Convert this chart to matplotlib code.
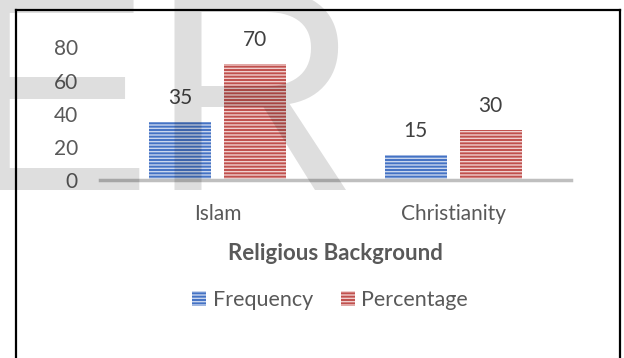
import numpy as np
import matplotlib
matplotlib.use("Agg")
import matplotlib.pyplot as plt
from matplotlib.lines import Line2D
from matplotlib.patches import Patch

religions = ["Islam", "Christianity"]
frequency = [35, 15]
percentage = [70, 30]
series_names = ["Frequency", "Percentage"]
yticks = [0, 20, 40, 60, 80]

blue, blue_light = "#4472C4", "#C9D6EE"
red, red_light = "#C0504D", "#F0CFCE"
txt = "#595959"

plt.rcParams["font.family"] = ["Lato", "DejaVu Sans"]
plt.rcParams["hatch.linewidth"] = 1.0

W, H = 624, 358
fig = plt.figure(figsize=(W / 100, H / 100), dpi=100)
fig.patch.set_facecolor("white")

# plot area in pixels: x 100..571, y 47..180 (from top)
ax = fig.add_axes([100 / W, 1 - 180 / H, 471 / W, 132.6 / H])

x = np.arange(len(religions))
bw = 0.263
off = 0.159
b1 = ax.bar(x - off, frequency, bw, color=blue, edgecolor=blue_light,
            hatch="-----", linewidth=0, label=series_names[0])
b2 = ax.bar(x + off, percentage, bw, color=red, edgecolor=red_light,
            hatch="-----", linewidth=0, label=series_names[1])

for bars in (b1, b2):
    ax.bar_label(bars, padding=10, fontsize=15, color="#404040")

ax.set_xlim(-0.5, 1.5)
ax.set_ylim(0, 80)
ax.set_yticks(yticks)
ax.set_xticks(x)
ax.set_xticklabels(religions)
ax.tick_params(axis="y", length=0, pad=16, labelsize=15, labelcolor=txt)
ax.tick_params(axis="x", length=0, pad=17, labelsize=15, labelcolor=txt)
for s in ("top", "left", "right"):
    ax.spines[s].set_visible(False)
ax.spines["bottom"].set_color("#BFBFBF")
ax.spines["bottom"].set_linewidth(2.5)
ax.patch.set_alpha(0)

ax.set_xlabel("Religious Background", fontsize=16, fontweight="bold",
              color=txt, labelpad=14)

handles = [Patch(facecolor=blue, edgecolor=blue_light, hatch="-----", linewidth=0),
           Patch(facecolor=red, edgecolor=red_light, hatch="-----", linewidth=0)]
fig.legend(handles, series_names, loc="center", bbox_to_anchor=(330 / W, 1 - 300 / H),
           ncol=2, frameon=False, fontsize=15.5, labelcolor=txt,
           handlelength=0.65, handleheight=0.65, handletextpad=0.3,
           columnspacing=1.3)

# frame around the chart (open at the bottom)
lc = "black"
fig.add_artist(Line2D([16 / W, 16 / W], [0, 1 - 10 / H], color=lc, lw=1.6,
                      transform=fig.transFigure))
fig.add_artist(Line2D([16 / W, 620 / W], [1 - 10 / H, 1 - 10 / H], color=lc, lw=1.6,
                      transform=fig.transFigure))
fig.add_artist(Line2D([620 / W, 620 / W], [0, 1 - 10 / H], color=lc, lw=1.6,
                      transform=fig.transFigure))

# faint watermark letters laid over the page
fig.text(-42 / W, 1 - 190 / H, "ER", fontsize=208, family="Liberation Sans",
         color="black", alpha=0.13, ha="left", va="baseline", zorder=10)

fig.savefig("out.png", dpi=100)
